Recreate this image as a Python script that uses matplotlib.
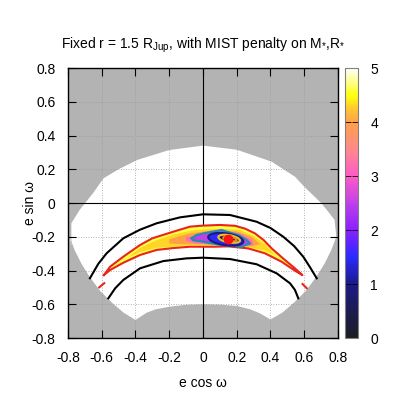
import numpy as np
import matplotlib
matplotlib.use('Agg')
import matplotlib.pyplot as plt
from matplotlib.colors import LinearSegmentedColormap, Normalize
from matplotlib.patches import Ellipse
import matplotlib.cm as cm

plt.rc('font', family=['Liberation Sans', 'DejaVu Sans'], size=10)
plt.rc('mathtext', fontset='custom', rm='Liberation Sans', it='Liberation Sans:italic')

## Palette (value, colour)
pal_vals = [0.0, 0.5, 1.0, 1.5, 2.0, 2.5, 3.0, 3.5, 4.0, 4.25, 4.5, 4.8, 5.0]
pal_cols = ['#1c1c24', '#1c1c50', '#1a1a8c', '#2a2aff', '#8a20ff', '#c040e8',
            '#ff5ac8', '#ff8a8a', '#ffa048', '#ffc830', '#ffff10', '#ffffa0', '#ffffff']

## Allowed region (white), outside is grey
allowed_x = [-0.78, -0.78, -0.73, -0.65, -0.59, -0.5, -0.39, -0.2, 0.0, 0.2, 0.407, 0.545, 0.6,
             0.70, 0.733, 0.78, 0.79, 0.76, 0.72, 0.67, 0.61, 0.54, 0.47, 0.40, 0.338, 0.28,
             0.2, 0.1, 0.0, -0.1, -0.196, -0.28, -0.334, -0.40, -0.47, -0.54, -0.61, -0.67,
             -0.72, -0.76, -0.79]
allowed_y = [-0.25, -0.12, -0.04, 0.06, 0.146, 0.2, 0.255, 0.314, 0.34, 0.316, 0.245, 0.156, 0.097,
             0.0, -0.04, -0.1, -0.2, -0.28, -0.36, -0.44, -0.52, -0.59, -0.65, -0.69, -0.654, -0.63,
             -0.61, -0.602, -0.6, -0.603, -0.614, -0.63, -0.65, -0.693, -0.65, -0.59, -0.52, -0.44,
             -0.36, -0.28, -0.2]

## Chi2 layers (value, outline) from outside to inside
cres_x = [-0.587, -0.55, -0.472, -0.373, -0.3, -0.176, -0.077, 0.0, 0.1, 0.19, 0.25, 0.308, 0.36,
          0.407, 0.486, 0.545, 0.589, 0.545, 0.466, 0.367, 0.268, 0.15, 0.071, -0.077, -0.176,
          -0.274, -0.373, -0.472, -0.55, -0.587]
cres_y = [-0.427, -0.377, -0.318, -0.249, -0.209, -0.17, -0.14, -0.134, -0.13, -0.135, -0.152, -0.18,
          -0.22, -0.269, -0.338, -0.387, -0.427, -0.401, -0.348, -0.298, -0.269, -0.257, -0.259,
          -0.259, -0.267, -0.278, -0.308, -0.354, -0.397, -0.427]
yel_x = [-0.45, -0.37, -0.28, -0.17, -0.05, 0.1, 0.22, 0.3, 0.37, 0.43, 0.36, 0.26, 0.1, -0.08,
         -0.27, -0.37, -0.45]
yel_y = [-0.325, -0.265, -0.222, -0.185, -0.16, -0.152, -0.16, -0.195, -0.245, -0.31, -0.28, -0.26,
         -0.248, -0.25, -0.265, -0.29, -0.325]
ora_x = [-0.2, -0.08, 0.05, 0.2, 0.29, 0.34, 0.28, 0.15, 0.0, -0.12, -0.2]
ora_y = [-0.215, -0.18, -0.163, -0.168, -0.2, -0.245, -0.258, -0.25, -0.245, -0.245, -0.24]
pink_x = [-0.1, 0.0, 0.1, 0.22, 0.29, 0.3, 0.22, 0.08, -0.05, -0.1]
pink_y = [-0.205, -0.18, -0.165, -0.18, -0.22, -0.25, -0.256, -0.25, -0.238, -0.225]
teal_x = [-0.067, -0.04, 0.012, 0.11, 0.21, 0.26, 0.279, 0.229, 0.11, -0.008, -0.06, -0.067]
teal_y = [-0.209, -0.19, -0.178, -0.16, -0.19, -0.22, -0.239, -0.259, -0.249, -0.228, -0.22, -0.209]
layer_vals = [4.6, 4.3, 4.0, 3.2, 2.5]

# inner ellipses: centre x, centre y, width, height, angle, value, edge colour
ell_cx = [0.135, 0.155, 0.16]
ell_cy = [-0.215, -0.212, -0.213]
ell_w = [0.21, 0.13, 0.08]
ell_h = [0.07, 0.043, 0.025]
ell_ang = [-8, -10, -10]
ell_val = [1.5, 0.6, 0.5]
ell_edge = ['#1a1a80', '#f0c020', '#e8901c']

best_x = [0.15]
best_y = [-0.213]

## Black curves
arc1_x = [-0.67, -0.62, -0.571, -0.472, -0.373, -0.274, -0.136, 0.0, 0.16, 0.318, 0.4, 0.476,
          0.54, 0.594, 0.634, 0.674]
arc1_y = [-0.446, -0.36, -0.298, -0.209, -0.158, -0.12, -0.085, -0.067, -0.071, -0.111, -0.148,
          -0.2, -0.255, -0.318, -0.38, -0.446]
arc2_x = [-0.561, -0.52, -0.472, -0.373, -0.235, -0.097, 0.0, 0.16, 0.318, 0.437, 0.516, 0.545, 0.565]
arc2_y = [-0.565, -0.505, -0.456, -0.387, -0.344, -0.328, -0.324, -0.332, -0.363, -0.417, -0.476,
          -0.515, -0.565]

## Small red bits near the edges
bitL_x = [-0.615, -0.585]
bitL_y = [-0.5, -0.475]
bitR_x = [0.59, 0.615]
bitR_y = [-0.48, -0.505]

ticks = [-0.8, -0.6, -0.4, -0.2, 0, 0.2, 0.4, 0.6, 0.8]
tick_labels = ['-0.8', '-0.6', '-0.4', '-0.2', '0', '0.2', '0.4', '0.6', '0.8']
cb_ticks = [0, 1, 2, 3, 4, 5]


def mappa():
    cmap = LinearSegmentedColormap.from_list(
        'gp', [(v / 5.0, c) for v, c in zip(pal_vals, pal_cols)])
    norm = Normalize(0, 5)

    fig = plt.figure(figsize=(4.07, 4.07), dpi=100)
    ax = fig.add_axes([0.167, 0.1695, 0.6634, 0.6634])
    cax = fig.add_axes([0.8477, 0.1695, 0.0319, 0.6634])

    ax.set_facecolor('#b3b3b3')
    ax.fill(allowed_x, allowed_y, color='white', zorder=0.5, lw=0)

    for t in ticks[1:-1]:
        ax.axvline(t, color='#9a9a9a', lw=0.6, ls=(0, (1, 2)), zorder=1)
        ax.axhline(t, color='#9a9a9a', lw=0.6, ls=(0, (1, 2)), zorder=1)
    ax.axvline(0, color='black', lw=0.8, zorder=1.1)
    ax.axhline(0, color='black', lw=0.8, zorder=1.1)

    polys = [(cres_x, cres_y), (yel_x, yel_y), (ora_x, ora_y), (pink_x, pink_y), (teal_x, teal_y)]
    for (px, py), v in zip(polys, layer_vals):
        ax.fill(px, py, color=cmap(norm(v)), lw=0, zorder=2)

    ax.plot(cres_x, cres_y, color='#e8261e', lw=1.5, zorder=3)
    ax.plot(teal_x, teal_y, color='#1e8cb4', lw=1.5, zorder=3)
    for i in range(len(ell_cx)):
        e = Ellipse((ell_cx[i], ell_cy[i]), ell_w[i], ell_h[i], angle=ell_ang[i],
                    facecolor=cmap(norm(ell_val[i])), edgecolor=ell_edge[i], lw=1.5, zorder=3 + i * 0.1)
        ax.add_patch(e)
    ax.plot(best_x, best_y, 'o', color='#ff1010', ms=6, zorder=4)

    ax.plot(bitL_x, bitL_y, color='#e8261e', lw=1.5, zorder=3)
    ax.plot(bitR_x, bitR_y, color='#e8261e', lw=1.5, zorder=3)
    ax.plot(arc1_x, arc1_y, color='black', lw=1.5, zorder=3)
    ax.plot(arc2_x, arc2_y, color='black', lw=1.5, zorder=3)

    ax.set_xlim(-0.8, 0.8)
    ax.set_ylim(-0.8, 0.8)
    ax.set_xticks(ticks, tick_labels)
    ax.set_yticks(ticks, tick_labels)
    ax.tick_params(direction='in', length=6, width=0.8, top=True, right=True)
    ax.tick_params(axis='x', pad=9)
    ax.tick_params(axis='y', pad=9)
    for s in ax.spines.values():
        s.set_linewidth(1.0)
    ax.set_xlabel('e cos ω', labelpad=8)
    ax.set_ylabel('e sin ω', labelpad=-4)
    ax.set_title(r'Fixed r = 1.5 R$_{\mathrm{Jup}}$, with MIST penalty on M$_{*}$,R$_{*}$',
                 fontsize=10, pad=14)

    sm = cm.ScalarMappable(norm=norm, cmap=cmap)
    cb = fig.colorbar(sm, cax=cax, ticks=cb_ticks)
    cb.outline.set_edgecolor('#808080')
    cb.outline.set_linewidth(0.8)
    cax.tick_params(direction='in', length=4, width=0.6, left=True, right=True, pad=9)

    fig.savefig('out.png', dpi=100)


mappa()
